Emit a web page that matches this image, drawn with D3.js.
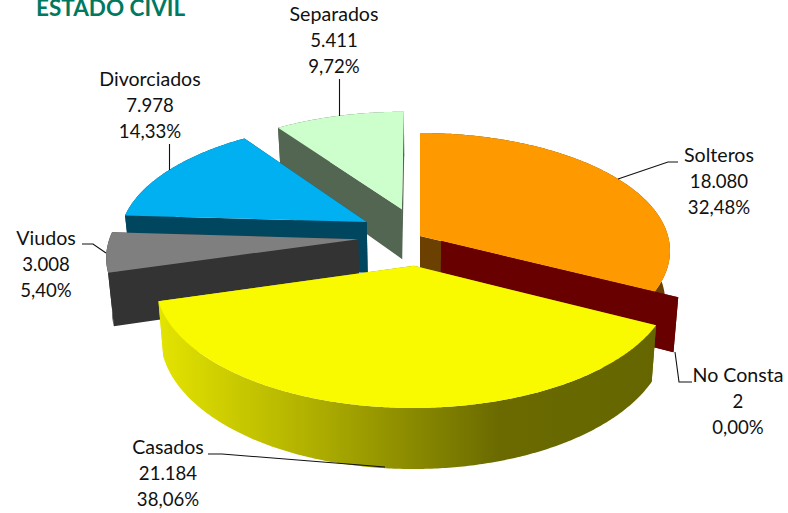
<!DOCTYPE html>
<meta charset="utf-8">
<style>
body { margin: 0; background: white; }
svg { display: block; }
text { font-family: Lato, "Open Sans", Arial; font-size: 18.6px; fill: #111; text-anchor: middle; }
.name { font-size: 19.6px; }
.title { font-size: 22.5px; font-weight: bold; fill: #00795f; text-anchor: start; }
.leader { fill: none; stroke: #111; stroke-width: 1.1px; }
</style>
<body>
<svg width="788" height="513"></svg>
<script src="https://d3js.org/d3.v7.min.js"></script>
<script>

var categories = ["Solteros", "No Consta", "Casados", "Viudos", "Divorciados", "Separados"];
var values = [18080, 2, 21184, 3008, 7978, 5411];
var topColors = ["#ff9900", "#680000", "#f9f900", "#7f7f7f", "#00b0f0", "#ccffcc"];
var sideColors = ["#6b4000", "#680000", "url(#yellowSide)", "#333333", "#00465f", "#526652"];
var explode = [0, 0.095, 0.25, 0.25, 0.25, 0.25];

var labelX = [719, 738, 168, 46, 150, 334];
var labelY = [162, 382, 454, 245, 86, 21];
var leaders = [
  [[678, 162], [668, 162], [618, 179]],
  [[692, 382], [679, 382], [675, 352]],
  [[208, 454], [222, 454], [385, 467]],
  [[82, 244], [93, 244], [106, 253]],
  [[169.5, 144], [169.5, 170]],
  [[339.5, 79], [339.5, 116]]
];

// pie plane, seen in perspective
var cx = 420, cy = 236, rx = 248, ry = 116, persp = 0.126, depth = 51.5;

function project(u, v, z) {
  var w = 1 - persp * v;
  var shrink = 1 - 0.0185 * z;
  return [cx + rx * u / w * shrink, cy + ry * v / w + depth * z / w];
}

function rim(a, off) {
  return [off[0] + Math.sin(a), off[1] - Math.cos(a)];
}

var svg = d3.select("svg");

var defs = svg.append("defs");
var grad = defs.append("linearGradient")
  .attr("id", "yellowSide")
  .attr("gradientUnits", "userSpaceOnUse")
  .attr("x1", 158).attr("x2", 660).attr("y1", 0).attr("y2", 0);
[[0, "#e4e400"], [0.28, "#b4b400"], [0.48, "#8f8f00"], [0.68, "#6a6a00"], [1, "#666600"]].forEach(function(s) {
  grad.append("stop").attr("offset", s[0]).attr("stop-color", s[1]);
});

var line = d3.line();
var slices = d3.pie().sort(null)(values);

function arcPoints(d, off, z) {
  var n = Math.max(1, Math.ceil((d.endAngle - d.startAngle) / 0.01));
  return d3.range(n + 1).map(function(i) {
    var p = rim(d.startAngle + (d.endAngle - d.startAngle) * i / n, off);
    return project(p[0], p[1], z);
  });
}

function radial(a, off) {
  var p = rim(a, off);
  return line([project(off[0], off[1], 0), project(p[0], p[1], 0), project(p[0], p[1], 1), project(off[0], off[1], 1)]) + "Z";
}

// back to front: Separados first, Casados last
var order = [5, 4, 3, 0, 1, 2];

order.forEach(function(i) {
  var d = slices[i];
  var mid = (d.startAngle + d.endAngle) / 2;
  var off = [explode[i] * Math.sin(mid), -explode[i] * Math.cos(mid)];
  var g = svg.append("g").attr("class", "slice");

  var startFront = -Math.sin(d.startAngle) > 0;
  var endFront = Math.sin(d.endAngle) > 0;
  var side = sideColors[i];

  if (!startFront) g.append("path").attr("d", radial(d.startAngle, off)).attr("fill", side);
  if (!endFront) g.append("path").attr("d", radial(d.endAngle, off)).attr("fill", side);

  g.append("path")
    .attr("d", line(arcPoints(d, off, 0).concat(arcPoints(d, off, 1).reverse())) + "Z")
    .attr("fill", side);

  if (startFront) g.append("path").attr("d", radial(d.startAngle, off)).attr("fill", side);
  if (endFront) g.append("path").attr("d", radial(d.endAngle, off)).attr("fill", side);

  g.append("path")
    .attr("d", line([project(off[0], off[1], 0)].concat(arcPoints(d, off, 0))) + "Z")
    .attr("fill", topColors[i]);
});

var es = d3.formatLocale({decimal: ",", thousands: ".", grouping: [3], currency: ["", ""]});
var fmtValue = es.format(",d");
var fmtPct = es.format(".2%");
var total = d3.sum(values);

leaders.forEach(function(l) {
  svg.append("path").attr("class", "leader").attr("d", line(l));
});

categories.forEach(function(c, i) {
  var rows = [c, fmtValue(values[i]), fmtPct(values[i] / total)];
  rows.forEach(function(r, j) {
    svg.append("text")
      .attr("class", j == 0 ? "name" : null)
      .attr("x", labelX[i])
      .attr("y", labelY[i] + j * 26.2)
      .text(r);
  });
});

svg.append("text").attr("class", "title").attr("x", 36).attr("y", 16).text("ESTADO CIVIL");

</script>
</body>
